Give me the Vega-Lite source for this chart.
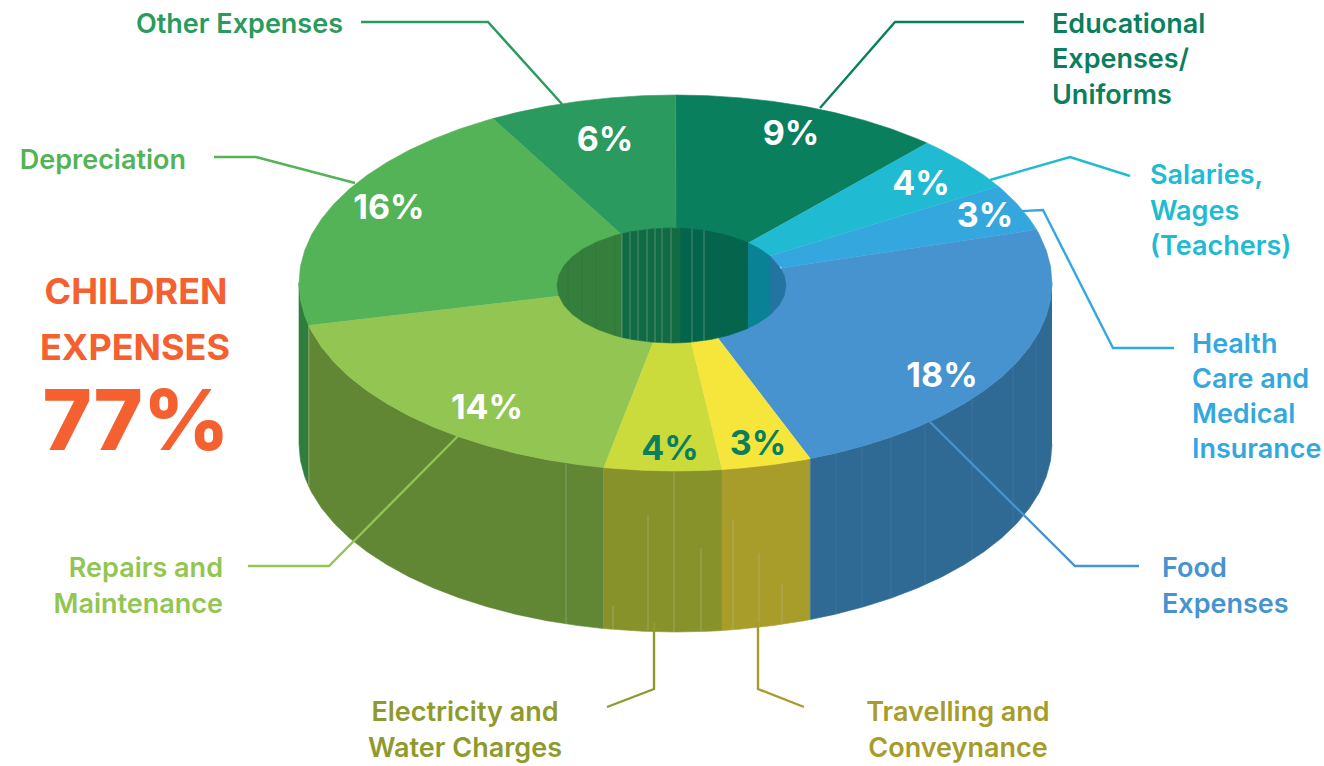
{"$schema":"https://vega.github.io/schema/vega-lite/v6.json","width":1324,"height":766,"autosize":{"type":"fit","contains":"padding"},"padding":0,"background":"white","config":{"view":{"stroke":null}},
"datasets":{
"walls":[
{"s":"wDep","i":0,"x":308.7,"y":325.3},{"s":"wDep","i":1,"x":304.7,"y":315.6},{"s":"wDep","i":2,"x":300.4,"y":299.4},{"s":"wDep","i":3,"x":299,"y":283},{"s":"wDep","i":4,"x":299,"y":444},{"s":"wDep","i":5,"x":300.4,"y":460.4},{"s":"wDep","i":6,"x":304.7,"y":476.6},{"s":"wDep","i":7,"x":308.7,"y":486.3},
{"s":"wRepairs","i":0,"x":603.7,"y":467.6},{"s":"wRepairs","i":1,"x":578.1,"y":464.6},{"s":"wRepairs","i":2,"x":546.7,"y":459.7},{"s":"wRepairs","i":3,"x":516.4,"y":453.4},{"s":"wRepairs","i":4,"x":487.2,"y":445.8},{"s":"wRepairs","i":5,"x":459.5,"y":437},{"s":"wRepairs","i":6,"x":433.5,"y":427},{"s":"wRepairs","i":7,"x":409.3,"y":415.9},{"s":"wRepairs","i":8,"x":387.1,"y":403.8},{"s":"wRepairs","i":9,"x":367.1,"y":390.8},{"s":"wRepairs","i":10,"x":349.4,"y":377},{"s":"wRepairs","i":11,"x":334.3,"y":362.5},{"s":"wRepairs","i":12,"x":321.7,"y":347.3},{"s":"wRepairs","i":13,"x":311.8,"y":331.7},{"s":"wRepairs","i":14,"x":308.7,"y":325.3},{"s":"wRepairs","i":15,"x":308.7,"y":486.3},{"s":"wRepairs","i":16,"x":311.8,"y":492.7},{"s":"wRepairs","i":17,"x":321.7,"y":508.3},{"s":"wRepairs","i":18,"x":334.3,"y":523.5},{"s":"wRepairs","i":19,"x":349.4,"y":538},{"s":"wRepairs","i":20,"x":367.1,"y":551.8},{"s":"wRepairs","i":21,"x":387.1,"y":564.8},{"s":"wRepairs","i":22,"x":409.3,"y":576.9},{"s":"wRepairs","i":23,"x":433.5,"y":588},{"s":"wRepairs","i":24,"x":459.5,"y":598},{"s":"wRepairs","i":25,"x":487.2,"y":606.8},{"s":"wRepairs","i":26,"x":516.4,"y":614.4},{"s":"wRepairs","i":27,"x":546.7,"y":620.7},{"s":"wRepairs","i":28,"x":578.1,"y":625.6},{"s":"wRepairs","i":29,"x":603.7,"y":628.6},
{"s":"wElec","i":0,"x":722,"y":469.6},{"s":"wElec","i":1,"x":708.3,"y":470.3},{"s":"wElec","i":2,"x":675.5,"y":471},{"s":"wElec","i":3,"x":642.7,"y":470.3},{"s":"wElec","i":4,"x":610.1,"y":468.1},{"s":"wElec","i":5,"x":603.7,"y":467.6},{"s":"wElec","i":6,"x":603.7,"y":628.6},{"s":"wElec","i":7,"x":610.1,"y":629.1},{"s":"wElec","i":8,"x":642.7,"y":631.3},{"s":"wElec","i":9,"x":675.5,"y":632},{"s":"wElec","i":10,"x":708.3,"y":631.3},{"s":"wElec","i":11,"x":722,"y":630.6},
{"s":"wTravel","i":0,"x":810.4,"y":458.5},{"s":"wTravel","i":1,"x":804.3,"y":459.7},{"s":"wTravel","i":2,"x":772.9,"y":464.6},{"s":"wTravel","i":3,"x":740.9,"y":468.1},{"s":"wTravel","i":4,"x":722,"y":469.6},{"s":"wTravel","i":5,"x":722,"y":630.6},{"s":"wTravel","i":6,"x":740.9,"y":629.1},{"s":"wTravel","i":7,"x":772.9,"y":625.6},{"s":"wTravel","i":8,"x":804.3,"y":620.7},{"s":"wTravel","i":9,"x":810.4,"y":619.5},
{"s":"wFood","i":0,"x":1052,"y":283},{"s":"wFood","i":1,"x":1050.6,"y":299.4},{"s":"wFood","i":2,"x":1046.3,"y":315.6},{"s":"wFood","i":3,"x":1039.2,"y":331.7},{"s":"wFood","i":4,"x":1029.3,"y":347.3},{"s":"wFood","i":5,"x":1016.7,"y":362.5},{"s":"wFood","i":6,"x":1001.6,"y":377},{"s":"wFood","i":7,"x":983.9,"y":390.8},{"s":"wFood","i":8,"x":963.9,"y":403.8},{"s":"wFood","i":9,"x":941.7,"y":415.9},{"s":"wFood","i":10,"x":917.5,"y":427},{"s":"wFood","i":11,"x":891.5,"y":437},{"s":"wFood","i":12,"x":863.8,"y":445.8},{"s":"wFood","i":13,"x":834.6,"y":453.4},{"s":"wFood","i":14,"x":810.4,"y":458.5},{"s":"wFood","i":15,"x":810.4,"y":619.5},{"s":"wFood","i":16,"x":834.6,"y":614.4},{"s":"wFood","i":17,"x":863.8,"y":606.8},{"s":"wFood","i":18,"x":891.5,"y":598},{"s":"wFood","i":19,"x":917.5,"y":588},{"s":"wFood","i":20,"x":941.7,"y":576.9},{"s":"wFood","i":21,"x":963.9,"y":564.8},{"s":"wFood","i":22,"x":983.9,"y":551.8},{"s":"wFood","i":23,"x":1001.6,"y":538},{"s":"wFood","i":24,"x":1016.7,"y":523.5},{"s":"wFood","i":25,"x":1029.3,"y":508.3},{"s":"wFood","i":26,"x":1039.2,"y":492.7},{"s":"wFood","i":27,"x":1046.3,"y":476.6},{"s":"wFood","i":28,"x":1050.6,"y":460.4},{"s":"wFood","i":29,"x":1052,"y":444}
],
"tops":[
{"s":"Edu","i":0,"x":675.5,"y":95},{"s":"Edu","i":1,"x":708.3,"y":95.7},{"s":"Edu","i":2,"x":740.9,"y":97.9},{"s":"Edu","i":3,"x":772.9,"y":101.4},{"s":"Edu","i":4,"x":804.3,"y":106.3},{"s":"Edu","i":5,"x":834.6,"y":112.6},{"s":"Edu","i":6,"x":863.8,"y":120.2},{"s":"Edu","i":7,"x":891.5,"y":129},{"s":"Edu","i":8,"x":917.5,"y":139},{"s":"Edu","i":9,"x":927,"y":143},{"s":"Edu","i":10,"x":748,"y":243},{"s":"Edu","i":11,"x":676,"y":228},
{"s":"Sal","i":0,"x":927,"y":143},{"s":"Sal","i":1,"x":941.7,"y":150.1},{"s":"Sal","i":2,"x":963.9,"y":162.2},{"s":"Sal","i":3,"x":983.9,"y":175.2},{"s":"Sal","i":4,"x":998.2,"y":186.2},{"s":"Sal","i":5,"x":770,"y":256},{"s":"Sal","i":6,"x":748,"y":243},
{"s":"Health","i":0,"x":998.2,"y":186.2},{"s":"Health","i":1,"x":1001.6,"y":189},{"s":"Health","i":2,"x":1016.7,"y":203.5},{"s":"Health","i":3,"x":1029.3,"y":218.7},{"s":"Health","i":4,"x":1036.5,"y":229.6},{"s":"Health","i":5,"x":782,"y":268},{"s":"Health","i":6,"x":770,"y":256},
{"s":"Food","i":0,"x":1036.5,"y":229.6},{"s":"Food","i":1,"x":1039.2,"y":234.3},{"s":"Food","i":2,"x":1046.3,"y":250.4},{"s":"Food","i":3,"x":1050.6,"y":266.6},{"s":"Food","i":4,"x":1052,"y":283},{"s":"Food","i":5,"x":1050.6,"y":299.4},{"s":"Food","i":6,"x":1046.3,"y":315.6},{"s":"Food","i":7,"x":1039.2,"y":331.7},{"s":"Food","i":8,"x":1029.3,"y":347.3},{"s":"Food","i":9,"x":1016.7,"y":362.5},{"s":"Food","i":10,"x":1001.6,"y":377},{"s":"Food","i":11,"x":983.9,"y":390.8},{"s":"Food","i":12,"x":963.9,"y":403.8},{"s":"Food","i":13,"x":941.7,"y":415.9},{"s":"Food","i":14,"x":917.5,"y":427},{"s":"Food","i":15,"x":891.5,"y":437},{"s":"Food","i":16,"x":863.8,"y":445.8},{"s":"Food","i":17,"x":834.6,"y":453.4},{"s":"Food","i":18,"x":810.4,"y":458.5},{"s":"Food","i":19,"x":718,"y":338},{"s":"Food","i":20,"x":782,"y":268},
{"s":"Travel","i":0,"x":810.4,"y":458.5},{"s":"Travel","i":1,"x":804.3,"y":459.7},{"s":"Travel","i":2,"x":772.9,"y":464.6},{"s":"Travel","i":3,"x":740.9,"y":468.1},{"s":"Travel","i":4,"x":722,"y":469.6},{"s":"Travel","i":5,"x":691,"y":342},{"s":"Travel","i":6,"x":718,"y":338},
{"s":"Elec","i":0,"x":722,"y":469.6},{"s":"Elec","i":1,"x":708.3,"y":470.3},{"s":"Elec","i":2,"x":675.5,"y":471},{"s":"Elec","i":3,"x":642.7,"y":470.3},{"s":"Elec","i":4,"x":610.1,"y":468.1},{"s":"Elec","i":5,"x":603.7,"y":467.6},{"s":"Elec","i":6,"x":653,"y":342},{"s":"Elec","i":7,"x":691,"y":342},
{"s":"Repairs","i":0,"x":603.7,"y":467.6},{"s":"Repairs","i":1,"x":578.1,"y":464.6},{"s":"Repairs","i":2,"x":546.7,"y":459.7},{"s":"Repairs","i":3,"x":516.4,"y":453.4},{"s":"Repairs","i":4,"x":487.2,"y":445.8},{"s":"Repairs","i":5,"x":459.5,"y":437},{"s":"Repairs","i":6,"x":433.5,"y":427},{"s":"Repairs","i":7,"x":409.3,"y":415.9},{"s":"Repairs","i":8,"x":387.1,"y":403.8},{"s":"Repairs","i":9,"x":367.1,"y":390.8},{"s":"Repairs","i":10,"x":349.4,"y":377},{"s":"Repairs","i":11,"x":334.3,"y":362.5},{"s":"Repairs","i":12,"x":321.7,"y":347.3},{"s":"Repairs","i":13,"x":311.8,"y":331.7},{"s":"Repairs","i":14,"x":308.7,"y":325.3},{"s":"Repairs","i":15,"x":558,"y":296},{"s":"Repairs","i":16,"x":653,"y":342},
{"s":"Dep","i":0,"x":308.7,"y":325.3},{"s":"Dep","i":1,"x":304.7,"y":315.6},{"s":"Dep","i":2,"x":300.4,"y":299.4},{"s":"Dep","i":3,"x":299,"y":283},{"s":"Dep","i":4,"x":300.4,"y":266.6},{"s":"Dep","i":5,"x":304.7,"y":250.4},{"s":"Dep","i":6,"x":311.8,"y":234.3},{"s":"Dep","i":7,"x":321.7,"y":218.7},{"s":"Dep","i":8,"x":334.3,"y":203.5},{"s":"Dep","i":9,"x":349.4,"y":189},{"s":"Dep","i":10,"x":367.1,"y":175.2},{"s":"Dep","i":11,"x":387.1,"y":162.2},{"s":"Dep","i":12,"x":409.3,"y":150.1},{"s":"Dep","i":13,"x":433.5,"y":139},{"s":"Dep","i":14,"x":459.5,"y":129},{"s":"Dep","i":15,"x":487.2,"y":120.2},{"s":"Dep","i":16,"x":493,"y":118.6},{"s":"Dep","i":17,"x":621,"y":234},{"s":"Dep","i":18,"x":558,"y":296},
{"s":"Other","i":0,"x":493,"y":118.6},{"s":"Other","i":1,"x":516.4,"y":112.6},{"s":"Other","i":2,"x":546.7,"y":106.3},{"s":"Other","i":3,"x":578.1,"y":101.4},{"s":"Other","i":4,"x":610.1,"y":97.9},{"s":"Other","i":5,"x":642.7,"y":95.7},{"s":"Other","i":6,"x":675.5,"y":95},{"s":"Other","i":7,"x":676,"y":228},{"s":"Other","i":8,"x":621,"y":234}
],
"hole":[
{"s":"hGreen","i":0,"x":622,"y":233.6},{"s":"hGreen","i":1,"x":614.2,"y":235.7},{"s":"hGreen","i":2,"x":597.9,"y":241.5},{"s":"hGreen","i":3,"x":583.8,"y":248.5},{"s":"hGreen","i":4,"x":572.3,"y":256.7},{"s":"hGreen","i":5,"x":563.9,"y":265.8},{"s":"hGreen","i":6,"x":558.7,"y":275.5},{"s":"hGreen","i":7,"x":557,"y":285.5},{"s":"hGreen","i":8,"x":558.7,"y":295.5},{"s":"hGreen","i":9,"x":563.9,"y":305.2},{"s":"hGreen","i":10,"x":572.3,"y":314.3},{"s":"hGreen","i":11,"x":583.8,"y":322.5},{"s":"hGreen","i":12,"x":597.9,"y":329.5},{"s":"hGreen","i":13,"x":614.2,"y":335.3},{"s":"hGreen","i":14,"x":622,"y":337.4},
{"s":"hDark1","i":0,"x":622,"y":233.6},{"s":"hDark1","i":1,"x":632.3,"y":231.5},{"s":"hDark1","i":2,"x":651.6,"y":228.9},{"s":"hDark1","i":3,"x":671.5,"y":228},{"s":"hDark1","i":4,"x":680,"y":228.2},{"s":"hDark1","i":5,"x":680,"y":342.8},{"s":"hDark1","i":6,"x":671.5,"y":343},{"s":"hDark1","i":7,"x":651.6,"y":342.1},{"s":"hDark1","i":8,"x":632.3,"y":339.5},{"s":"hDark1","i":9,"x":622,"y":337.4},
{"s":"hDark2","i":0,"x":680,"y":228.2},{"s":"hDark2","i":1,"x":691.4,"y":228.9},{"s":"hDark2","i":2,"x":710.7,"y":231.5},{"s":"hDark2","i":3,"x":728.8,"y":235.7},{"s":"hDark2","i":4,"x":745.1,"y":241.5},{"s":"hDark2","i":5,"x":748,"y":242.7},{"s":"hDark2","i":6,"x":748,"y":328.3},{"s":"hDark2","i":7,"x":745.1,"y":329.5},{"s":"hDark2","i":8,"x":728.8,"y":335.3},{"s":"hDark2","i":9,"x":710.7,"y":339.5},{"s":"hDark2","i":10,"x":691.4,"y":342.1},{"s":"hDark2","i":11,"x":680,"y":342.8},
{"s":"hTeal","i":0,"x":748,"y":242.7},{"s":"hTeal","i":1,"x":759.2,"y":248.5},{"s":"hTeal","i":2,"x":770,"y":256},{"s":"hTeal","i":3,"x":770,"y":315},{"s":"hTeal","i":4,"x":759.2,"y":322.5},{"s":"hTeal","i":5,"x":748,"y":328.3},
{"s":"hBlue","i":0,"x":770,"y":256},{"s":"hBlue","i":1,"x":770.7,"y":256.7},{"s":"hBlue","i":2,"x":779.1,"y":265.8},{"s":"hBlue","i":3,"x":784.3,"y":275.5},{"s":"hBlue","i":4,"x":786,"y":285.5},{"s":"hBlue","i":5,"x":784.3,"y":295.5},{"s":"hBlue","i":6,"x":779.1,"y":305.2},{"s":"hBlue","i":7,"x":770.7,"y":314.3},{"s":"hBlue","i":8,"x":770,"y":315}
],
"seams":[
{"s":"seamLight","x":622,"y":233.6,"y2":337.4},{"s":"seamLight","x":630,"y":232,"y2":339},{"s":"seamLight","x":638,"y":230.5,"y2":340.5},{"s":"seamLight","x":647,"y":229.3,"y2":341.7},{"s":"seamLight","x":655,"y":228.6,"y2":342.4},{"s":"seamLight","x":662,"y":228.3,"y2":342.7},{"s":"seamLight","x":671,"y":228,"y2":343},{"s":"seamDark","x":680,"y":228.3,"y2":342.8},{"s":"seamLight","x":692,"y":228.9,"y2":342.1},{"s":"seamLight","x":704,"y":230.4,"y2":340.6},
{"s":"seamDark","x":568,"y":261,"y2":310},{"s":"seamDark","x":582,"y":249.6,"y2":321.4},{"s":"seamDark","x":596,"y":242.3,"y2":328.7},{"s":"seamDark","x":615,"y":235.5,"y2":335.5},
{"s":"seamLight","x":309,"y":326,"y2":486},{"s":"seamLight","x":566,"y":464,"y2":623},
{"s":"seamLight","x":613,"y":606,"y2":630},{"s":"seamLight","x":648,"y":516,"y2":630},{"s":"seamLight","x":674,"y":471,"y2":632},{"s":"seamLight","x":701,"y":548,"y2":631},
{"s":"seamLight","x":733,"y":520,"y2":630},{"s":"seamLight","x":759,"y":553,"y2":627},{"s":"seamLight","x":782,"y":584,"y2":624},
{"s":"seamFaint","x":836,"y":453,"y2":614},{"s":"seamFaint","x":862,"y":446,"y2":607},{"s":"seamFaint","x":891,"y":437,"y2":598},{"s":"seamFaint","x":925,"y":423,"y2":584},{"s":"seamFaint","x":972,"y":398,"y2":559},{"s":"seamFaint","x":1013,"y":366,"y2":527},{"s":"seamFaint","x":1036,"y":337,"y2":498}
],
"leaders":[
{"s":"Other","i":0,"x":361,"y":22},{"s":"Other","i":1,"x":488,"y":22},{"s":"Other","i":2,"x":562,"y":104},
{"s":"Edu","i":0,"x":1024,"y":22},{"s":"Edu","i":1,"x":895,"y":22},{"s":"Edu","i":2,"x":820,"y":108},
{"s":"Sal","i":0,"x":1130,"y":176},{"s":"Sal","i":1,"x":1070,"y":157},{"s":"Sal","i":2,"x":990,"y":180},
{"s":"Health","i":0,"x":1174,"y":348},{"s":"Health","i":1,"x":1113,"y":348},{"s":"Health","i":2,"x":1043,"y":210},{"s":"Health","i":3,"x":1005,"y":212},
{"s":"Food","i":0,"x":1139,"y":566},{"s":"Food","i":1,"x":1075,"y":566},{"s":"Food","i":2,"x":930,"y":422},
{"s":"Repairs","i":0,"x":248,"y":566},{"s":"Repairs","i":1,"x":329,"y":566},{"s":"Repairs","i":2,"x":458,"y":436},
{"s":"Dep","i":0,"x":214,"y":157},{"s":"Dep","i":1,"x":256,"y":157},{"s":"Dep","i":2,"x":355,"y":183},
{"s":"lineOlive1","i":0,"x":607,"y":707},{"s":"lineOlive1","i":1,"x":654,"y":689},{"s":"lineOlive1","i":2,"x":654,"y":622},
{"s":"lineOlive2","i":0,"x":758,"y":622},{"s":"lineOlive2","i":1,"x":758,"y":689},{"s":"lineOlive2","i":2,"x":804,"y":707}
],
"labels":[
{"t":"Other Expenses","a":"r","s":"Other","x":343,"y":25},{"t":"Depreciation","a":"r","s":"Dep","x":186,"y":161},
{"t":"Educational","a":"l","s":"Edu","x":1052,"y":25},{"t":"Expenses/","a":"l","s":"Edu","x":1052,"y":60},{"t":"Uniforms","a":"l","s":"Edu","x":1052,"y":96},
{"t":"Salaries,","a":"l","s":"Sal","x":1150,"y":176},{"t":"Wages","a":"l","s":"Sal","x":1150,"y":212},{"t":"(Teachers)","a":"l","s":"Sal","x":1150,"y":247},
{"t":"Health","a":"l","s":"Health","x":1192,"y":345},{"t":"Care and","a":"l","s":"Health","x":1192,"y":380},{"t":"Medical","a":"l","s":"Health","x":1192,"y":415},{"t":"Insurance","a":"l","s":"Health","x":1192,"y":450},
{"t":"Food","a":"l","s":"Food","x":1162,"y":569},{"t":"Expenses","a":"l","s":"Food","x":1162,"y":605},
{"t":"Repairs and","a":"r","s":"Repairs","x":223,"y":569},{"t":"Maintenance","a":"r","s":"Repairs","x":223,"y":605},
{"t":"Electricity and","a":"c","s":"textOlive1","x":465,"y":713},{"t":"Water Charges","a":"c","s":"textOlive1","x":465,"y":749},
{"t":"Travelling and","a":"c","s":"textOlive2","x":958,"y":713},{"t":"Conveynance","a":"c","s":"textOlive2","x":958,"y":749}
],
"pct":[
{"t":"9%","s":"white","x":791,"y":135},{"t":"4%","s":"white","x":921,"y":185},{"t":"3%","s":"white","x":985,"y":217},{"t":"18%","s":"white","x":942,"y":377},{"t":"3%","s":"Edu","x":758,"y":445},{"t":"4%","s":"Edu","x":670,"y":450},{"t":"14%","s":"white","x":487,"y":409},{"t":"16%","s":"white","x":389,"y":209},{"t":"6%","s":"white","x":605,"y":141}
],
"headline":[{"t":"CHILDREN","s":"orange","x":136,"y":293},{"t":"EXPENSES","s":"orange","x":135,"y":349}],
"big":[{"t":"77%","s":"orange","x":136,"y":425}]
},
"layer":[
{"data":{"name":"walls"},"mark":{"type":"line","strokeWidth":0.6,"interpolate":"linear"},"encoding":{
"x":{"field":"x","type":"quantitative","scale":{"domain":[0,1324],"nice":false,"zero":false},"axis":null},
"y":{"field":"y","type":"quantitative","scale":{"domain":[766,0],"nice":false,"zero":false},"axis":null},
"order":{"field":"i","type":"quantitative"},
"fill":{"field":"s","type":"nominal","legend":null,"scale":{"domain":["wFood","wTravel","wElec","wRepairs","wDep","Edu","Sal","Health","Food","Travel","Elec","Repairs","Dep","Other","hGreen","hDark1","hDark2","hTeal","hBlue","textOlive1","textOlive2","lineOlive1","lineOlive2","white","orange","seamLight","seamDark","seamFaint"],"range":["#2f6a95","#a89c2b","#87932a","#618634","#2f7e3e","#0a7f5e","#20bbd2","#34a8de","#4793cf","#f6e63c","#cbdb3b","#92c552","#54b357","#2a9a5e","#357f3c","#106b45","#04644c","#0a8296","#2175a0","#8f9a2c","#a69c2c","#8f9a2c","#a69c2c","#ffffff","#f46030","#b9c9ae","#2a6e3a","#4f82a6"]}},
"color":{"field":"s","type":"nominal","legend":null,"scale":{"domain":["wFood","wTravel","wElec","wRepairs","wDep","Edu","Sal","Health","Food","Travel","Elec","Repairs","Dep","Other","hGreen","hDark1","hDark2","hTeal","hBlue","textOlive1","textOlive2","lineOlive1","lineOlive2","white","orange","seamLight","seamDark","seamFaint"],"range":["#2f6a95","#a89c2b","#87932a","#618634","#2f7e3e","#0a7f5e","#20bbd2","#34a8de","#4793cf","#f6e63c","#cbdb3b","#92c552","#54b357","#2a9a5e","#357f3c","#106b45","#04644c","#0a8296","#2175a0","#8f9a2c","#a69c2c","#8f9a2c","#a69c2c","#ffffff","#f46030","#b9c9ae","#2a6e3a","#4f82a6"]}}}},
{"data":{"name":"tops"},"mark":{"type":"line","strokeWidth":0.6},"encoding":{"x":{"field":"x","type":"quantitative"},"y":{"field":"y","type":"quantitative"},"order":{"field":"i","type":"quantitative"},"fill":{"field":"s","type":"nominal","legend":null},"color":{"field":"s","type":"nominal","legend":null}}},
{"data":{"name":"hole"},"mark":{"type":"line","strokeWidth":0.6},"encoding":{"x":{"field":"x","type":"quantitative"},"y":{"field":"y","type":"quantitative"},"order":{"field":"i","type":"quantitative"},"fill":{"field":"s","type":"nominal","legend":null},"color":{"field":"s","type":"nominal","legend":null}}},
{"data":{"name":"seams"},"mark":{"type":"rule","strokeWidth":1,"opacity":0.4},"encoding":{"x":{"field":"x","type":"quantitative"},"y":{"field":"y","type":"quantitative"},"y2":{"field":"y2"},"color":{"field":"s","type":"nominal","legend":null}}},
{"data":{"name":"leaders"},"mark":{"type":"line","strokeWidth":2.4},"encoding":{"x":{"field":"x","type":"quantitative"},"y":{"field":"y","type":"quantitative"},"order":{"field":"i","type":"quantitative"},"detail":{"field":"s"},"color":{"field":"s","type":"nominal","legend":null}}},
{"data":{"name":"labels"},"transform":[{"filter":"datum.a=='l'"}],"mark":{"type":"text","align":"left","baseline":"middle","font":"Inter","fontSize":27,"fontWeight":600},"encoding":{"x":{"field":"x","type":"quantitative"},"y":{"field":"y","type":"quantitative"},"text":{"field":"t"},"fill":{"field":"s","type":"nominal","legend":null}}},
{"data":{"name":"labels"},"transform":[{"filter":"datum.a=='r'"}],"mark":{"type":"text","align":"right","baseline":"middle","font":"Inter","fontSize":27,"fontWeight":600},"encoding":{"x":{"field":"x","type":"quantitative"},"y":{"field":"y","type":"quantitative"},"text":{"field":"t"},"fill":{"field":"s","type":"nominal","legend":null}}},
{"data":{"name":"labels"},"transform":[{"filter":"datum.a=='c'"}],"mark":{"type":"text","align":"center","baseline":"middle","font":"Inter","fontSize":27,"fontWeight":600},"encoding":{"x":{"field":"x","type":"quantitative"},"y":{"field":"y","type":"quantitative"},"text":{"field":"t"},"fill":{"field":"s","type":"nominal","legend":null}}},
{"data":{"name":"pct"},"mark":{"type":"text","align":"center","baseline":"middle","font":"Inter","fontSize":34,"fontWeight":700},"encoding":{"x":{"field":"x","type":"quantitative"},"y":{"field":"y","type":"quantitative"},"text":{"field":"t"},"fill":{"field":"s","type":"nominal","legend":null}}},
{"data":{"name":"headline"},"mark":{"type":"text","align":"center","baseline":"middle","font":"Inter","fontSize":36,"fontWeight":700},"encoding":{"x":{"field":"x","type":"quantitative"},"y":{"field":"y","type":"quantitative"},"text":{"field":"t"},"fill":{"field":"s","type":"nominal","legend":null}}},
{"data":{"name":"big"},"mark":{"type":"text","align":"center","baseline":"middle","font":"Inter","fontSize":84,"fontWeight":800},"encoding":{"x":{"field":"x","type":"quantitative"},"y":{"field":"y","type":"quantitative"},"text":{"field":"t"},"fill":{"field":"s","type":"nominal","legend":null}}}
]}
